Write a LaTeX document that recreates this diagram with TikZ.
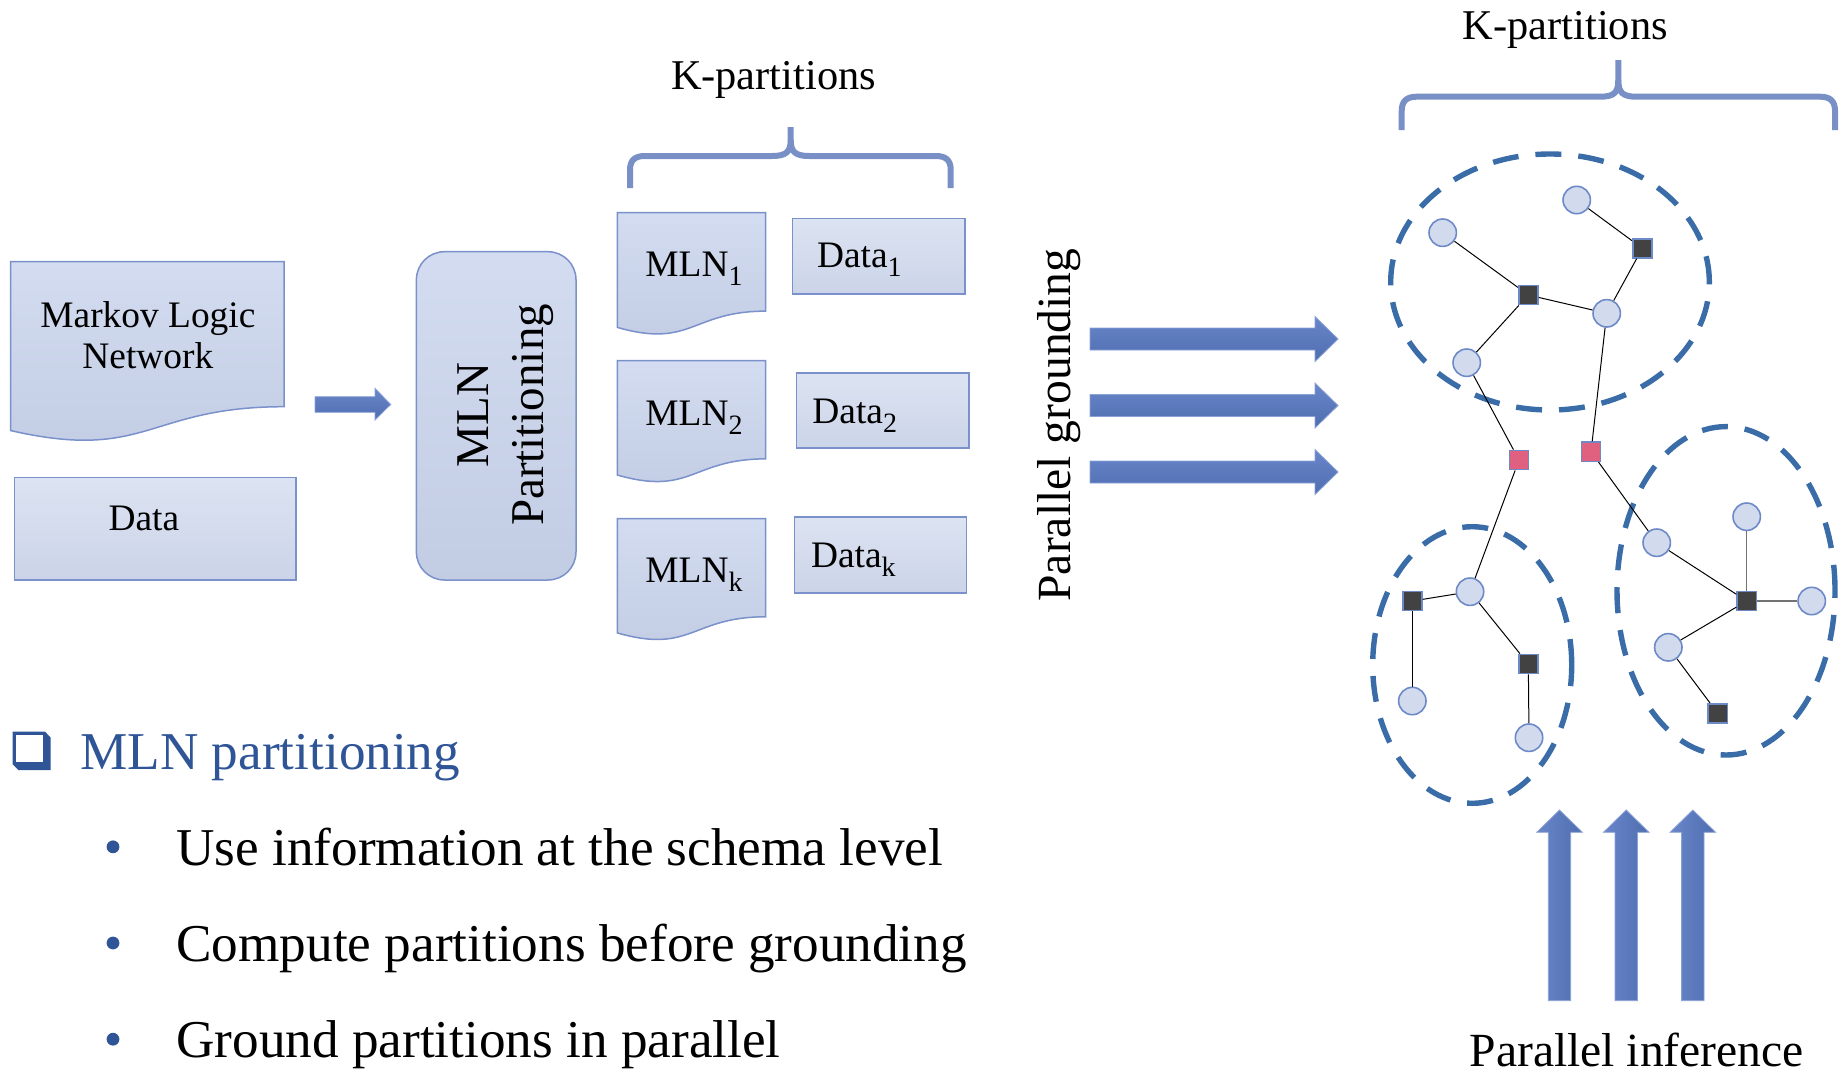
\documentclass[tikz,border=0pt]{standalone}
\usepackage{fontspec}
\setmainfont{Liberation Serif}

\definecolor{docfillA}{HTML}{D3DCF0}
\definecolor{docfillB}{HTML}{C2CCE3}
\definecolor{boxline}{HTML}{7A91CB}
\definecolor{datafillA}{HTML}{DCE3F2}
\definecolor{datafillB}{HTML}{CBD4E8}
\definecolor{arrowA}{HTML}{6886C9}
\definecolor{arrowB}{HTML}{4F6EB0}
\definecolor{arrowline}{HTML}{8CA2D7}
\definecolor{bracecol}{HTML}{7890C6}
\definecolor{partline}{HTML}{3A6DA8}
\definecolor{vfill}{HTML}{D2DBEE}
\definecolor{vline}{HTML}{6D8AC7}
\definecolor{factorfill}{HTML}{424242}
\definecolor{crossfill}{HTML}{E0617F}
\definecolor{headblue}{HTML}{2F5597}

% font sizes
\newcommand\fsA{\fontsize{18.7}{22}\selectfont}
\newcommand\fsB{\fontsize{23.5}{28}\selectfont}
\newcommand\fsK{\fontsize{21.2}{25}\selectfont}
\newcommand\fsC{\fontsize{23.8}{28}\selectfont}
\newcommand\fsD{\fontsize{26.6}{32}\selectfont}
\newcommand\subtxt[1]{\raisebox{-4.5pt}{\fontsize{14}{14}\selectfont #1}}

% flowchart "document" outline: left x, right x, top y, nominal height
\newcommand\docshape[4]{%
  \path[docstyle] (#1,#3) -- (#2,#3) -- (#2,{#3+0.802*#4})
    .. controls ({(#1+#2)/2},{#3+0.802*#4}) and ({(#1+#2)/2},{#3+1.1075*#4}) ..
    (#1,{#3+0.934*#4}) -- cycle;}

% wide right-pointing arrow centred at height #1
\newcommand\rarrow[1]{%
  \path[fatarrow] (1090,{#1-11}) -- (1315,{#1-11}) -- (1315,{#1-22.5}) -- (1338,#1)
    -- (1315,{#1+22.5}) -- (1315,{#1+11}) -- (1090,{#1+11}) -- cycle;}

% wide upward arrow centred at x = #1
\newcommand\uarrow[1]{%
  \path[uparrowstyle] ({#1-11.2},1000.7) -- ({#1-11.2},832.3) -- ({#1-22.8},832.3) -- (#1,810)
    -- ({#1+22.8},832.3) -- ({#1+11.2},832.3) -- ({#1+11.2},1000.7) -- cycle;}

\tikzset{
  docstyle/.style={draw=boxline, line width=0.75pt, top color=docfillA, bottom color=docfillB},
  databox/.style={draw=boxline, line width=0.75pt, top color=datafillA, bottom color=datafillB},
  fatarrow/.style={draw=arrowline, line width=0.4pt, top color=arrowA, bottom color=arrowB},
  uparrowstyle/.style={draw=arrowline, line width=0.4pt, left color=arrowA, right color=arrowB},
  kbrace/.style={draw=bracecol, line width=3pt, line join=round},
  partition/.style={draw=partline, line width=2.7pt, dash pattern=on 13pt off 8.5pt},
  var/.style={circle, draw=vline, line width=0.8pt, fill=vfill, minimum size=13.7pt, inner sep=0pt},
  fac/.style={rectangle, draw=vline, line width=0.8pt, fill=factorfill, minimum size=9.6pt, inner sep=0pt},
  cross/.style={fac, fill=crossfill},
  edge/.style={draw=black, line width=0.5pt},
  gedge/.style={draw=black!55, line width=0.6pt},
  txt/.style={inner sep=0pt, anchor=base},
  bulletdot/.style={circle, fill=headblue, minimum size=6.4pt, inner sep=0pt},
}

\begin{document}
\begin{tikzpicture}[x=0.5pt, y=-0.5pt]
\path[use as bounding box] (0,0) rectangle (1839,1076);

% ---------- input: MLN and data ----------
\docshape{10.7}{284}{261.7}{180.8}
\node[txt, font=\fsA] (mlnA) at (147.9,327.3) {Markov Logic};
\node[txt, font=\fsA] (mlnB) at (147.9,368.3) {Network};

\path[databox] (14.5,477.3) rectangle (295.8,580);
\node[txt, font=\fsA] (data) at (143.9,530.7) {Data};

% small arrow into the partitioner
\path[fatarrow] (315,396.7) -- (375,396.7) -- (375,388.3) -- (390.7,404.5)
  -- (375,420) -- (375,412.3) -- (315,412.3) -- cycle;

% ---------- partitioner ----------
\path[docstyle, rounded corners=14pt] (416.4,251.7) rectangle (576,580);
\node[txt, font=\fsB, rotate=90] (partA) at (488,415) {MLN};
\node[txt, font=\fsB, rotate=90] (partB) at (543.4,415) {Partitioning};

% ---------- K partitions of the MLN and data ----------
\node[txt, font=\fsK] (kleft) at (773.5,89) {K-partitions};
\draw[kbrace] (630,188) -- (630,170) .. controls (630,160) and (635,156) .. (645,156)
  -- (772,156) .. controls (786,156) and (790.7,152) .. (790.7,140) -- (790.7,127);
\draw[kbrace] (950.7,188) -- (950.7,170) .. controls (950.7,160) and (945.7,156) .. (935.7,156)
  -- (809.4,156) .. controls (795.4,156) and (790.7,152) .. (790.7,140);

\docshape{617.3}{765.7}{212.5}{123}
\docshape{617.3}{765.7}{360.7}{122.4}
\docshape{617.3}{765.7}{518.6}{122.4}
\node[txt, font=\fsA, anchor=base west] (mln1) at (645,276.8) {MLN\subtxt{1}};
\node[txt, font=\fsA, anchor=base west] (mln2) at (645,425) {MLN\subtxt{2}};
\node[txt, font=\fsA, anchor=base west] (mlnk) at (645,582.1) {MLN\subtxt{k}};

\path[databox] (792.7,218.6) rectangle (965,293.9);
\path[databox] (796.7,373.2) rectangle (969,448.2);
\path[databox] (794.3,517.1) rectangle (966.7,592.9);
\node[txt, font=\fsA, anchor=base west] (data1) at (816.7,267.9) {Data\subtxt{1}};
\node[txt, font=\fsA, anchor=base west] (data2) at (812,423.2) {Data\subtxt{2}};
\node[txt, font=\fsA, anchor=base west] (datak) at (810.7,567.1) {Data\subtxt{k}};

% ---------- parallel grounding ----------
\node[txt, font=\fsC, rotate=90] (pground) at (1070,425) {Parallel grounding};
\rarrow{339}
\rarrow{405.5}
\rarrow{472}

% ---------- grounded network ----------
\node[txt, font=\fsK] (kright) at (1565.3,39.3) {K-partitions};
\draw[kbrace] (1401.7,130) -- (1401.7,111) .. controls (1401.7,101) and (1406.7,96.7) .. (1416.7,96.7)
  -- (1600,96.7) .. controls (1614,96.7) and (1618.3,92.7) .. (1618.3,80) -- (1618.3,60);
\draw[kbrace] (1835,130) -- (1835,111) .. controls (1835,101) and (1830,96.7) .. (1820,96.7)
  -- (1636.6,96.7) .. controls (1622.6,96.7) and (1618.3,92.7) .. (1618.3,80);

\draw[partition] (1550,282) ellipse [x radius=79.65pt, y radius=64pt];
\draw[partition] (1472.2,665) ellipse [x radius=49.75pt, y radius=69.15pt];
\draw[partition] (1726,590.8) ellipse [x radius=54.5pt, y radius=82.1pt];

\node[var] (c1) at (1576.7,200) {};
\node[var] (c2) at (1442.7,232.7) {};
\node[var] (c3) at (1606.7,313.3) {};
\node[var] (c4) at (1466.7,362.7) {};
\node[fac] (s1) at (1642.3,248.3) {};
\node[fac] (s2) at (1528.3,295) {};
\node[cross] (p1) at (1519,460) {};
\node[cross] (p2) at (1591,451.7) {};
\node[var] (c5) at (1470,591.7) {};
\node[fac] (s3) at (1412.3,601) {};
\node[var] (c6) at (1412.3,701) {};
\node[fac] (s4) at (1528.3,664) {};
\node[var] (c7) at (1529,737.7) {};
\node[var] (c8) at (1656.7,542.7) {};
\node[var] (c9) at (1746.7,516.7) {};
\node[fac] (s5) at (1746.7,601) {};
\node[var] (c10) at (1811.7,601) {};
\node[var] (c11) at (1668.3,647.3) {};
\node[fac] (s6) at (1717.7,713.3) {};

\draw[edge] (c1) -- (s1);
\draw[edge] (c2) -- (s2);
\draw[edge] (s2) -- (c3);
\draw[edge] (s2) -- (c4);
\draw[edge] (s1) -- (c3);
\draw[edge] (c4) -- (p1);
\draw[edge] (c3) -- (p2);
\draw[edge] (p1) -- (c5);
\draw[edge] (c5) -- (s3);
\draw[edge] (s3) -- (c6);
\draw[edge] (c5) -- (s4);
\draw[edge] (s4) -- (c7);
\draw[edge] (p2) -- (c8);
\draw[edge] (c8) -- (s5);
\draw[gedge] (c9) -- (s5);
\draw[gedge] (s5) -- (c10);
\draw[edge] (s5) -- (c11);
\draw[edge] (c11) -- (s6);

% ---------- parallel inference ----------
\uarrow{1559.5}
\uarrow{1626.2}
\uarrow{1692.8}
\node[txt, font=\fsC] (pinfer) at (1636.7,1066) {Parallel inference};

% ---------- bullet list ----------
\fill[headblue] (12.7,731.7) -- (45,731.7) -- (50.7,737.5) -- (50.7,770) -- (18.5,770) -- (12.7,764.2) -- cycle;
\fill[white] (15.5,734.5) rectangle (42.8,762.2);
\node[txt, font=\fsD, text=headblue, anchor=base west] (head) at (80,769) {MLN partitioning};

\node[bulletdot] (b1) at (113,846.8) {};
\node[bulletdot] (b2) at (113,943) {};
\node[bulletdot] (b3) at (113,1039.2) {};
\node[txt, font=\fsD, anchor=base west] (t1) at (176,865.5) {Use information at the schema level};
\node[txt, font=\fsD, anchor=base west] (t2) at (176,961.7) {Compute partitions before grounding};
\node[txt, font=\fsD, anchor=base west] (t3) at (176,1057.9) {Ground partitions in parallel};
\end{tikzpicture}
\end{document}
